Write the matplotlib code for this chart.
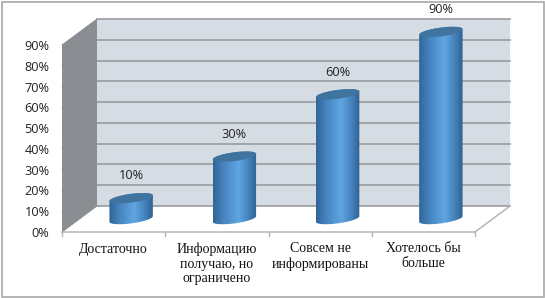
import numpy as np
import matplotlib
matplotlib.use('Agg')
import matplotlib.pyplot as plt
from matplotlib.colors import LinearSegmentedColormap
from matplotlib.patches import PathPatch, Polygon, Rectangle
from matplotlib.path import Path

categories = ['Достаточно', 'Информацию\nполучаю, но\nограничено', 'Совсем не\nинформированы', 'Хотелось бы\nбольше']
values = [10, 30, 60, 90]
y_ticks = [0, 10, 20, 30, 40, 50, 60, 70, 80, 90]

W, H = 545, 298
# front plane of the 3d box, in pixels
LEFT, RIGHT, TOP, BOTTOM = 62, 475, 45, 232
DEPTH_X = 35 / (RIGHT - LEFT) * 4  # px depth to data units
DEPTH_Y = 26 / (BOTTOM - TOP) * 90
PX_X = 4 / (RIGHT - LEFT)
PX_Y = 90 / (BOTTOM - TOP)

COLOR_WALL = '#d6dce4'
COLOR_SIDE = '#8a8e92'
COLOR_GRID = '#999c9f'
COLOR_CAP = '#41739f'
COLOR_EDGE = '#b5b5b5'

body_cmap = LinearSegmentedColormap.from_list(
    'body', [(0, '#2f6597'), (0.22, '#4583bd'), (0.58, '#5fa6e3'), (0.85, '#417db5'), (1, '#2f6190')])

fig = plt.figure(figsize=(W / 100, H / 100), dpi=100)
fig.add_artist(Rectangle((1.5 / W, 1.5 / H), (W - 3) / W, (H - 3) / H, fill=False,
                         ec='#a8a8a8', lw=1.2, transform=fig.transFigure))
ax = fig.add_axes([LEFT / W, 1 - BOTTOM / H, (RIGHT - LEFT) / W, (BOTTOM - TOP) / H])
ax.axis('off')
ax.set_xlim(0, 4)
ax.set_ylim(0, 90)


def ellipse_pts(cx, cy, t):
    # tilted cap, right side sits a bit higher
    a, b, k = 21.7, 4.4, 0.13
    return np.column_stack([cx + a * np.cos(t) * PX_X,
                            cy + (b * np.sin(t) + k * a * np.cos(t)) * PX_Y])


# walls and floor
ax.add_patch(Polygon([(DEPTH_X, DEPTH_Y), (4 + DEPTH_X, DEPTH_Y), (4 + DEPTH_X, 90 + DEPTH_Y), (DEPTH_X, 90 + DEPTH_Y)],
                     fc=COLOR_WALL, ec='none', clip_on=False))
ax.add_patch(Polygon([(0, 0), (DEPTH_X, DEPTH_Y), (DEPTH_X, 90 + DEPTH_Y), (0, 90)],
                     fc=COLOR_SIDE, ec='none', clip_on=False))
for v in y_ticks:
    ax.plot([DEPTH_X, 4 + DEPTH_X], [v + DEPTH_Y] * 2, color=COLOR_GRID, lw=1.2, clip_on=False)
    ax.plot([0, DEPTH_X], [v, v + DEPTH_Y], color='#868a8e', lw=0.6, clip_on=False)
    ax.text(-12.5 * PX_X, v - 1.5 * PX_Y, f'{v}%', ha='right', va='center', fontsize=9.2,
            family='Open Sans', color='#222222')
ax.plot([0, 4, 4 + DEPTH_X], [0, 0, DEPTH_Y], color=COLOR_EDGE, lw=1.1, clip_on=False)
for i in range(5):
    ax.plot([i, i], [0, -4 * PX_Y], color=COLOR_EDGE, lw=1, clip_on=False)

# cylinders
grad = np.linspace(0, 1, 128).reshape(1, -1)
for i, (cat, val) in enumerate(zip(categories, values)):
    cx = i + 0.5 + DEPTH_X / 2
    cy0 = DEPTH_Y / 2
    cy1 = val + DEPTH_Y / 2
    upper = ellipse_pts(cx, cy1, np.linspace(0, np.pi, 60))
    lower = ellipse_pts(cx, cy0, np.linspace(np.pi, 2 * np.pi, 60))
    pts = np.vstack([upper, lower, upper[:1]])
    clip = PathPatch(Path(pts, closed=True), transform=ax.transData, fc='none', ec='none')
    ax.add_patch(clip)
    clip.set_clip_on(False)
    x0, x1 = cx - 21.7 * PX_X, cx + 21.7 * PX_X
    im = ax.imshow(grad, extent=[x0, x1, -10, 110], cmap=body_cmap, aspect='auto',
                   interpolation='bilinear', zorder=3)
    im.set_clip_box(fig.bbox)
    im.set_clip_path(clip)
    cap = ellipse_pts(cx, cy1, np.linspace(0, 2 * np.pi, 120))
    ax.add_patch(Polygon(cap, fc=COLOR_CAP, ec='none', zorder=4, clip_on=False))
    ax.annotate(f'{val}%', (cx, cy1), xytext=(0, 16), textcoords='offset points',
                ha='center', va='center', fontsize=9.2, family='Open Sans',
                color='#222222', annotation_clip=False)
    ax.text(i + 0.5, -10.5 * PX_Y, cat, ha='center', va='top', fontsize=10,
            family='Liberation Serif', color='#111111', linespacing=1.16)

ax.set_xlim(0, 4)
ax.set_ylim(0, 90)
fig.savefig('out.png', dpi=100)
